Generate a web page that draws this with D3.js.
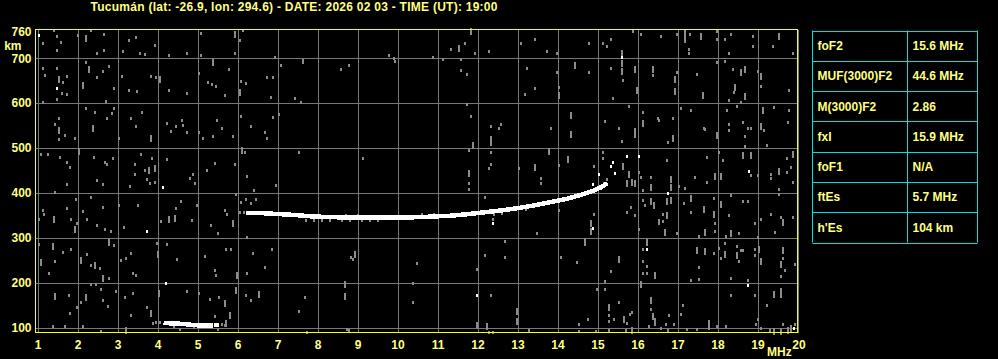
<!DOCTYPE html>
<html>
<head>
<meta charset="utf-8">
<script src="https://cdn.jsdelivr.net/npm/d3@7"></script>
<style>
  body { margin: 0; background: #000; }
  svg  { display: block; }
  text { font-family: "Liberation Sans", Arial, sans-serif; font-weight: bold; font-size: 12px; fill: #ffff80; }
</style>
</head>
<body>
<svg width="998" height="359"></svg>
<script>
const title = 'Tucumán (lat: -26.9, lon: 294.6) - DATE: 2026 02 03 - TIME (UT): 19:00';

const freqTicks   = [1, 2, 3, 4, 5, 6, 7, 8, 9, 10, 11, 12, 13, 14, 15, 16, 17, 18, 19, 20];
const heightTicks = [100, 200, 300, 400, 500, 600, 700, 760];

const paramNames  = ['foF2', 'MUF(3000)F2', 'M(3000)F2', 'fxI', 'foF1', 'ftEs', "h'Es"];
const paramValues = ['15.6 MHz', '44.6 MHz', '2.86', '15.9 MHz', 'N/A', '5.7 MHz', '104 km'];

// echo traces [MHz, km]
const traceF2 = [
  [6.2, 355], [6.6, 355], [7.0, 353], [7.4, 351], [7.8, 348], [8.3, 346], [9.0, 345],
  [9.6, 345], [10.2, 345], [10.8, 347], [11.3, 349], [11.8, 353], [12.2, 357], [12.6, 361],
  [13.0, 366], [13.4, 372], [13.8, 379], [14.2, 386], [14.6, 396], [14.9, 405], [15.1, 413],
  [15.25, 422]
];
const traceEs = [[4.15, 110], [4.5, 109], [4.75, 107], [5.0, 105], [5.38, 105]];
const traceEs2 = [[5.42, 106], [5.53, 106]];

// grey fringe pixels next to the traces
const fringe = [
  [6.05, 357], [6.15, 357], [6.75, 355], [6.85, 355], [7.15, 351], [7.25, 351], [7.7, 340],
  [7.9, 340], [8.1, 339], [8.3, 339], [8.6, 339], [8.8, 339], [9.1, 339], [9.3, 339],
  [9.5, 339], [8.7, 351], [9.0, 351], [10.6, 353], [10.9, 354], [12.4, 352], [12.6, 355],
  [13.2, 364], [3.95, 112], [4.05, 112], [5.6, 107], [5.68, 106], [4.4, 103], [4.9, 101]
];

// isolated bright echoes
const whiteDots = [
  [1.03, 752], [1.48, 633], [4.13, 414], [3.74, 315], [4.2, 199], [12.39, 332], [11.98, 172],
  [15.6, 702], [14.89, 322], [16.75, 399], [15.73, 483], [16.04, 483], [18.79, 449], [16.23, 274],
  [18.75, 194], [19.92, 99], [15.04, 442], [14.89, 419], [15.38, 468], [15.43, 445], [15.33, 460]
];

// short grey noise pixels
const noiseDots = [
  [1.48,749],[1.59,736],[1.48,719],[1.13,734],[1.4,762],[2.02,751],[2.34,762],[2.65,755],[2.49,712],[2.66,718],
  [3.13,715],[3.28,740],[3.47,748],[3.55,712],[3.68,710],[3.94,730],[4.3,708],[4.73,712],[5.08,757],[5.08,707],
  [6.05,740],[6.13,762],[5.94,712],[6.94,703],
  [1.13,678],[1.19,663],[1.48,678],[1.63,646],[1.74,661],[1.6,622],[1.48,609],[1.13,603],[1.74,620],[2.2,691],
  [2.49,658],[2.63,672],[2.78,682],[2.9,634],[2.72,605],[3.12,661],[3.28,629],[3.48,626],[3.84,661],[3.97,658],
  [4.3,630],[4.73,622],[5.03,666],[5.26,646],[5.35,642],[5.47,639],[5.68,617],[5.78,675],[6.08,650],[6.2,645],
  [6.73,658],[6.88,658],[6.84,613],[7.09,685],
  [1.53,566],[1.44,553],[1.68,529],[1.53,520],[1.94,523],[2.2,589],[2.43,581],[2.73,566],[2.87,578],[2.92,590],
  [3.03,522],[3.34,566],[3.47,548],[3.6,581],[4.23,555],[4.34,537],[4.45,548],[4.61,563],[4.63,551],[4.74,536],
  [5.03,536],[5.13,523],[5.38,527],[5.49,563],[5.61,544],[5.88,526],[6.09,571],[6.34,548],[6.69,536],[6.73,523],
  [6.88,570],[7.03,575],
  [1.09,486],[1.26,486],[1.55,481],[1.73,469],[1.8,457],[1.73,419],[1.44,403],[2.4,481],[2.49,428],[2.68,469],
  [2.73,464],[2.63,419],[2.89,478],[3.3,416],[3.44,464],[3.44,442],[3.59,486],[3.68,451],[3.74,432],[3.8,422],
  [3.87,478],[3.93,425],[4.23,476],[4.8,434],[4.88,442],[4.94,422],[5.24,451],[5.44,467],[5.94,465],[6.23,437],
  [6.19,491],[6.42,407],[6.97,417],
  [1.13,363],[1.15,354],[1.03,341],[1.74,367],[1.84,342],[1.95,386],[1.98,334],[2.13,359],[2.23,341],[2.33,391],
  [2.49,328],[2.63,369],[2.68,319],[2.83,316],[3.03,373],[3.16,325],[3.52,373],[4.08,337],[4.45,367],[4.59,382],
  [4.87,340],[4.99,372],[5.33,328],[5.51,310],[5.69,363],[5.74,352],[5.97,397],[6.08,380],[6.22,387],[6.34,378],
  [6.45,387],[6.23,302],
  [1.03,287],[1.43,248],[1.28,222],[1.63,268],[1.84,275],[2.23,263],[2.34,240],[2.55,233],[2.9,283],[2.78,211],
  [3.09,251],[3.2,255],[3.34,265],[3.38,222],[3.47,216],[3.98,289],[4.23,286],[4.48,252],[5.18,260],[5.44,229],
  [5.47,216],[5.7,275],[5.84,275],[6.23,222],[6.38,267],[6.68,235],[6.87,275],
  [1.78,172],[1.8,132],[1.99,145],[2.09,157],[2.34,196],[2.45,196],[2.59,185],[2.63,162],[2.76,148],[2.95,181],
  [3.18,169],[3.34,129],[3.38,178],[3.74,146],[4.73,181],[5.03,178],[5.32,164],[5.53,169],[5.44,126],[6.2,173],
  [6.33,162],[3.88,110],[1.38,103],[1.68,103],[2.13,103],[2.59,92],[4.55,96],[5.51,96],
  [11.69,734],[11.34,721],[11.94,712],[12.28,717],[13.08,734],[13.44,743],[10.89,702],[11.14,699],[11.58,699],
  [11.59,674],[11.73,665],[9.79,708],[9.9,700],[9.94,693],[7.63,697],[7.63,691],[8.59,675],[8.79,684],[7.44,611],
  [7.59,603],[13.23,678],[13.44,634],[13.19,620],[11.73,598],[11.84,572],[12.34,550],[12.54,545],[12.59,554],
  [12.34,509],[11.79,496],[12.34,492],[12.34,464],[12.29,455],[13.04,455],[13.59,433],[13.59,422],[11.79,422],
  [11.79,408],[7.54,491],[9.14,478],[12.19,390],[12.39,341],[13.48,310],[12.69,293],[12.19,261],[12.69,257],
  [11.98,230],[8.83,257],[8.88,253],[10.48,243],[10.39,199],[7.69,168],[7.54,138],[10.39,157],[12.34,172],
  [12.29,90],[12.39,90],[13.28,94],[8.74,97],[8.79,94],[7.73,90],
  [15.89,761],[16.08,753],[16.58,749],[16.98,753],[17.31,753],[17.28,721],[17.28,712],[17.98,761],[17.98,743],
  [18.19,743],[18.33,754],[18.29,712],[18.89,749],[18.89,728],[19.39,727],[19.9,712],[13.73,716],[13.98,712],
  [14.79,734],[15.14,734],[15.23,727],[15.33,743],
  [13.98,669],[14.04,635],[14.79,670],[15.33,678],[15.64,652],[16.38,663],[15.39,611],[16.98,669],[17.48,665],
  [17.98,691],[18.19,693],[18.39,676],[18.42,625],[18.29,608],[18.58,603],[19.0,672],[19.09,639],[19.79,630],
  [13.83,545],[15.19,560],[15.54,545],[15.79,594],[15.6,515],[15.94,527],[16.14,581],[16.5,566],[16.54,563],
  [16.89,567],[16.75,514],[17.08,589],[17.33,585],[17.65,544],[17.69,542],[18.04,492],[18.23,584],[18.29,553],
  [18.29,540],[18.48,594],[18.64,557],[18.75,544],[18.69,526],[18.69,505],[18.84,544],[19.17,540],[19.23,507],
  [19.42,592],[19.75,558],[19.79,585],
  [14.03,463],[14.92,459],[15.14,491],[15.14,478],[16.08,436],[16.03,447],[16.33,436],[16.33,408],[16.14,406],
  [16.73,473],[17.04,416],[17.18,412],[17.44,436],[17.73,480],[17.73,424],[18.14,473],[18.84,440],[19.33,442],
  [19.33,433],[19.73,446],[19.73,478],[19.83,458],[19.88,424],[19.54,408],[19.0,440],[15.17,423],[15.23,430],
  [14.04,363],[14.9,354],[14.68,298],[15.85,369],[15.73,357],[15.93,351],[16.04,319],[16.14,384],[16.19,374],
  [16.54,340],[16.54,332],[16.64,338],[16.64,354],[16.98,310],[17.33,357],[17.17,377],[17.54,305],[17.92,388],
  [17.94,332],[17.94,315],[18.21,305],[18.29,350],[18.33,395],[18.53,310],[18.65,381],[18.75,381],[18.93,333],
  [19.0,302],[19.09,342],[19.33,354],[19.44,313],[19.58,347],[19.9,347],[19.54,398],
  [14.08,257],[14.48,245],[15.33,226],[15.19,203],[16.13,274],[16.14,248],[16.23,237],[16.14,222],[16.23,221],
  [17.54,234],[17.33,206],[17.54,208],[17.92,266],[18.04,278],[18.08,256],[18.19,288],[18.48,281],[18.58,272],
  [18.54,248],[18.64,272],[18.93,274],[18.93,261],[19.63,254],[19.68,229],[19.58,215],[19.94,241],[18.33,211],
  [18.75,206],
  [14.98,186],[15.19,186],[15.29,128],[15.29,115],[15.42,119],[15.73,110],[15.82,130],[15.87,135],[15.54,157],
  [16.33,142],[16.43,119],[16.29,103],[16.79,128],[16.58,99],[16.71,107],[16.92,109],[17.08,130],[17.14,150],
  [14.54,107],[14.54,92],[14.75,118],[14.96,92],[17.78,99],[17.98,103],[18.21,103],[18.33,173],[18.93,172],
  [19.0,118],[18.96,107],[19.08,99],[19.58,186],[19.23,151],[19.63,107],[19.94,107],[19.32,95],[15.29,95],
  [15.71,95],[16.75,94],[17.24,96],[17.49,97]
];

// taller grey noise streaks
const noiseStreaks = [
  [2.2,745],[5.94,755],[1.53,654],[2.13,640],[2.28,676],[4.07,654],[5.38,691],[6.07,624],[1.53,540],[2.38,544],
  [3.83,523],[2.03,493],[3.78,451],[3.93,456],[6.12,496],[1.4,342],[1.93,319],[4.28,341],[4.43,344],[5.88,332],
  [1.38,281],[1.09,245],[2.09,251],[2.43,240],[2.63,211],[2.78,290],[4.0,263],[5.99,218],[1.43,170],[2.22,167],
  [3.83,133],[4.03,178],[5.69,155],[5.8,127],[5.95,183],[6.53,175],[5.72,110],[3.2,95],
  [11.83,760],[11.54,723],[12.34,521],[11.88,507],[13.44,458],[11.79,444],[8.94,263],[8.69,196],[8.69,170],
  [12.98,137],[12.98,114],[11.98,105],[12.23,103],
  [17.18,759],[17.18,743],[17.58,750],[19.54,750],[15.6,712],[14.44,686],[14.04,617],[15.6,672],[15.6,690],
  [15.94,676],[15.98,630],[16.38,676],[16.93,654],[16.93,628],[17.64,617],[18.58,669],[18.69,676],[18.44,636],
  [18.69,615],[19.09,661],[14.33,574],[14.33,531],[15.94,539],[16.14,556],[16.89,522],[17.98,529],[19.08,550],
  [19.14,584],[13.79,493],[14.25,476],[15.64,461],[15.79,442],[15.73,422],[15.87,424],[15.93,422],[16.33,414],
  [16.83,432],[16.83,414],[17.94,437],[18.08,437],[18.64,484],[18.84,484],[19.54,448],[19.9,487],[14.83,333],
  [14.83,315],[16.33,383],[16.42,372],[16.73,381],[16.73,351],[16.83,384],[16.68,313],[17.33,389],[17.65,365],
  [17.69,313],[17.92,354],[18.08,376],[18.33,310],[19.65,335],[14.68,291],[15.53,252],[16.23,291],[16.43,216],
  [17.48,272],[17.68,271],[18.19,264],[18.48,261],[19.04,275],[19.09,248],[19.63,272],[19.59,241],[15.29,145],
  [15.67,119],[16.08,196],[16.33,161],[16.38,125],[16.44,112],[17.78,110],[19.42,175],[19.58,175],[19.75,95],
  [19.83,99],[19.42,92],[19.58,92],[15.87,95]
];

function draw () {
  let svg = d3.select('svg');

  let left = 35.5, right = 797.5, top = 29.5, bottom = 332.5;

  // Scales
  let x = d3.scaleLinear().domain([1, 20]).range([37.5, 797.5]);
  let y = d3.scaleLinear().domain([89, 764]).range([bottom, top]);

  // Title
  svg.append('text')
    .attr('x', 294)
    .attr('y', 11)
    .attr('text-anchor', 'middle')
    .attr('textLength', 407)
    .attr('lengthAdjust', 'spacing')
    .text(title);

  // Grid + axes
  let xAxis = d3.axisBottom(x)
    .tickValues(freqTicks)
    .tickFormat(d3.format('d'))
    .tickSize(-(bottom - top))
    .tickPadding(7.5);

  let yAxis = d3.axisLeft(y)
    .tickValues(heightTicks)
    .tickFormat(d3.format('d'))
    .tickSize(-(right - left))
    .tickPadding(4);

  let gx = svg.append('g')
    .attr('transform', `translate(0, ${bottom})`)
    .call(xAxis);

  let gy = svg.append('g')
    .attr('transform', `translate(${left}, 0)`)
    .call(yAxis);

  [gx, gy].forEach(g => {
    g.select('.domain').remove();
    g.attr('font-family', null).attr('font-size', null);
    g.selectAll('.tick line').attr('stroke', '#787878').attr('shape-rendering', 'crispEdges');
    g.selectAll('.tick text').attr('fill', '#ffff80');
  });

  gy.selectAll('.tick').filter(d => d === 760).select('line').remove();
  gx.selectAll('.tick').filter(d => d === 20).select('text').attr('dx', 1);

  svg.append('text')
    .attr('x', 21.5)
    .attr('y', 49.5)
    .attr('text-anchor', 'end')
    .text('km');

  svg.append('text')
    .attr('x', 767)
    .attr('y', 356)
    .text('MHz');

  // Echoes
  let plot = svg.append('g').attr('shape-rendering', 'crispEdges');

  plot.selectAll('.streak')
    .data(noiseStreaks)
    .enter().append('rect')
      .attr('class', 'streak')
      .attr('x', d => Math.round(x(d[0])) - 1)
      .attr('y', d => Math.round(y(d[1])) - 3)
      .attr('width', 2)
      .attr('height', 7)
      .attr('fill', '#8c8c8c');

  plot.selectAll('.dot')
    .data(noiseDots.concat(fringe))
    .enter().append('rect')
      .attr('class', 'dot')
      .attr('x', d => Math.round(x(d[0])) - 1)
      .attr('y', d => Math.round(y(d[1])) - 1)
      .attr('width', 2)
      .attr('height', 3)
      .attr('fill', '#8c8c8c');

  let line = d3.line()
    .x(d => x(d[0]))
    .y(d => y(d[1]));

  plot.selectAll('.trace')
    .data([traceF2, traceEs, traceEs2])
    .enter().append('path')
      .attr('class', 'trace')
      .attr('d', line)
      .attr('fill', 'none')
      .attr('stroke', '#fff')
      .attr('stroke-width', 4.5);

  plot.selectAll('.white')
    .data(whiteDots)
    .enter().append('rect')
      .attr('class', 'white')
      .attr('x', d => Math.round(x(d[0])) - 1)
      .attr('y', d => Math.round(y(d[1])) - 1)
      .attr('width', 2)
      .attr('height', 3)
      .attr('fill', '#fff');

  // Frame
  svg.append('rect')
    .attr('x', left)
    .attr('y', top)
    .attr('width', right - left)
    .attr('height', bottom - top)
    .attr('fill', 'none')
    .attr('stroke', '#ffff00')
    .attr('shape-rendering', 'crispEdges');

  // Parameter table
  let tx = [812.5, 907.5, 977.5];
  let row = d3.scaleLinear().domain([0, paramNames.length]).range([30.5, 242.5]);

  let table = svg.append('g');

  table.selectAll('.cell-row')
    .data(paramNames)
    .enter().append('g')
      .attr('class', 'cell-row')
      .call(s => {
        s.append('text')
          .attr('x', tx[0] + 5)
          .attr('y', (d, i) => (row(i) + row(i + 1)) / 2)
          .attr('dy', '0.36em')
          .text(d => d);

        s.append('text')
          .attr('x', tx[1] + 5)
          .attr('y', (d, i) => (row(i) + row(i + 1)) / 2)
          .attr('dy', '0.36em')
          .text((d, i) => paramValues[i]);
      });

  table.selectAll('.hline')
    .data(d3.range(paramNames.length + 1))
    .enter().append('line')
      .attr('class', 'hline')
      .attr('x1', tx[0])
      .attr('x2', tx[2])
      .attr('y1', d => Math.round(row(d)) + 0.5)
      .attr('y2', d => Math.round(row(d)) + 0.5)
      .attr('stroke', '#00e0e0');

  table.selectAll('.vline')
    .data(tx)
    .enter().append('line')
      .attr('class', 'vline')
      .attr('x1', d => d)
      .attr('x2', d => d)
      .attr('y1', row(0))
      .attr('y2', row(paramNames.length))
      .attr('stroke', '#00e0e0');
}

document.addEventListener('DOMContentLoaded', draw);
</script>
</body>
</html>
